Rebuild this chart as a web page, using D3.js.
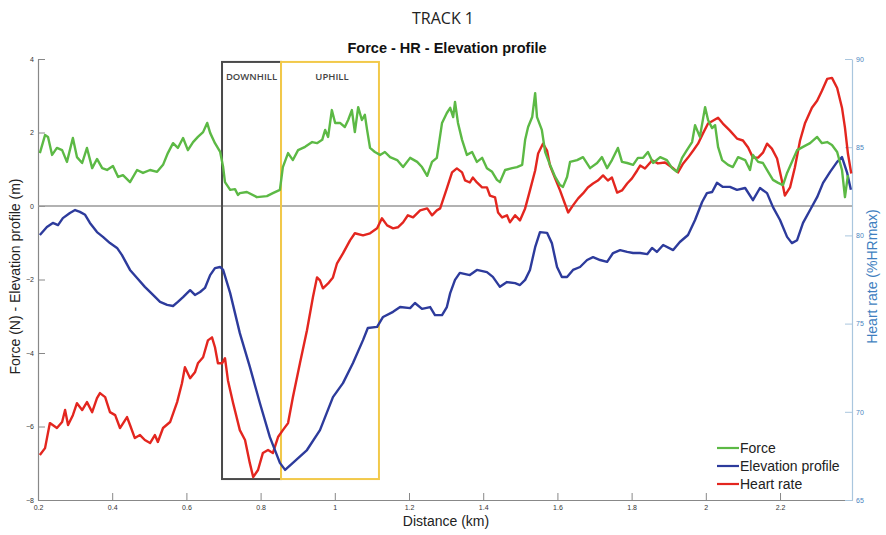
<!DOCTYPE html>
<html>
<head>
<meta charset="utf-8">
<script src="https://cdn.jsdelivr.net/npm/d3@7"></script>
<style>
  body { margin: 0; background: #fff; }
  svg text { font-family: "Liberation Sans", Arial, sans-serif; }
</style>
</head>
<body>
<svg id="chart" width="886" height="535"></svg>
<script>
// distance (km) and values
const forceKm = [0.205,0.219,0.227,0.238,0.251,0.265,0.278,0.294,0.305,0.319,0.332,0.346,0.359,0.373,0.386,0.402,0.416,0.429,0.448,0.467,0.483,0.502,0.521,0.537,0.550,0.564,0.577,0.591,0.604,0.618,0.631,0.645,0.656,0.664,0.677,0.691,0.699,0.704,0.718,0.731,0.739,0.744,0.763,0.790,0.817,0.833,0.852,0.860,0.874,0.887,0.901,0.920,0.939,0.952,0.966,0.974,0.982,0.992,1.001,1.014,1.027,1.036,1.046,1.054,1.063,1.073,1.081,1.087,1.095,1.108,1.122,1.135,1.149,1.168,1.184,1.203,1.222,1.235,1.249,1.262,1.275,1.289,1.302,1.311,1.319,1.324,1.332,1.343,1.356,1.370,1.383,1.397,1.410,1.424,1.437,1.445,1.459,1.478,1.491,1.505,1.513,1.521,1.532,1.540,1.545,1.558,1.567,1.580,1.594,1.607,1.615,1.626,1.634,1.653,1.669,1.688,1.707,1.720,1.734,1.747,1.763,1.774,1.788,1.804,1.817,1.831,1.844,1.858,1.877,1.895,1.909,1.922,1.936,1.949,1.963,1.971,1.984,1.998,2.006,2.017,2.025,2.033,2.044,2.060,2.073,2.087,2.106,2.119,2.127,2.141,2.154,2.168,2.181,2.195,2.208,2.219,2.232,2.246,2.262,2.281,2.300,2.313,2.327,2.340,2.354,2.367,2.375,2.383];
const forceVal = [1.44,1.93,1.88,1.39,1.58,1.52,1.20,1.85,1.33,1.17,1.58,1.03,1.28,1.03,0.98,1.09,0.79,0.84,0.65,0.98,0.90,0.98,0.93,1.12,1.44,1.71,1.58,1.85,1.52,1.74,1.88,2.01,2.26,1.99,1.71,1.47,1.06,0.65,0.44,0.46,0.30,0.35,0.38,0.24,0.27,0.35,0.44,1.06,1.44,1.25,1.52,1.61,1.74,1.71,1.80,2.07,1.88,2.61,2.26,2.26,2.15,2.34,2.61,2.01,2.69,2.34,2.48,2.07,1.58,1.47,1.39,1.47,1.33,1.25,1.06,1.31,1.20,1.06,0.82,1.20,1.31,2.26,2.53,2.67,2.42,2.83,2.26,1.80,1.39,1.47,1.20,1.31,1.03,0.93,0.71,0.65,0.98,1.03,1.06,1.12,1.80,2.15,2.42,3.07,2.42,2.07,1.47,1.12,0.79,0.57,0.52,0.79,1.20,1.25,1.33,1.03,1.17,1.33,1.03,1.25,1.58,1.20,1.17,1.12,1.31,1.31,1.47,1.17,1.33,1.25,1.03,0.93,1.31,1.52,1.74,2.20,1.88,2.69,2.34,2.12,2.20,1.61,1.25,1.12,1.06,1.33,1.25,0.98,1.39,1.20,1.17,0.93,0.71,0.63,0.57,0.90,1.20,1.52,1.61,1.71,1.88,1.71,1.74,1.66,1.47,0.98,0.24,0.84];

const elevKm = [0.205,0.224,0.240,0.254,0.267,0.286,0.300,0.313,0.327,0.340,0.359,0.375,0.394,0.413,0.426,0.448,0.467,0.488,0.510,0.529,0.548,0.564,0.577,0.591,0.610,0.623,0.637,0.650,0.664,0.677,0.691,0.699,0.718,0.744,0.771,0.798,0.825,0.852,0.866,0.887,0.925,0.960,0.995,1.022,1.049,1.076,1.089,1.114,1.130,1.157,1.176,1.203,1.216,1.235,1.257,1.270,1.289,1.302,1.311,1.324,1.337,1.364,1.383,1.410,1.426,1.445,1.464,1.486,1.499,1.513,1.526,1.540,1.553,1.572,1.585,1.599,1.612,1.626,1.642,1.661,1.680,1.696,1.715,1.734,1.750,1.769,1.788,1.804,1.823,1.842,1.855,1.868,1.885,1.912,1.930,1.952,1.971,1.990,2.003,2.017,2.030,2.046,2.065,2.084,2.106,2.127,2.146,2.165,2.181,2.200,2.219,2.232,2.246,2.262,2.281,2.300,2.316,2.335,2.354,2.367,2.381,2.391];
const elevVal = [-0.79,-0.57,-0.46,-0.52,-0.33,-0.19,-0.11,-0.16,-0.24,-0.46,-0.71,-0.84,-1.01,-1.14,-1.33,-1.74,-1.96,-2.20,-2.42,-2.61,-2.69,-2.72,-2.61,-2.48,-2.29,-2.42,-2.34,-2.23,-1.88,-1.69,-1.66,-1.74,-2.37,-3.46,-4.38,-5.36,-6.29,-6.99,-7.18,-6.99,-6.64,-6.10,-5.20,-4.82,-4.27,-3.65,-3.32,-3.29,-3.02,-2.88,-2.75,-2.78,-2.64,-2.80,-2.75,-2.97,-2.97,-2.75,-2.37,-2.01,-1.82,-1.88,-1.74,-1.80,-1.93,-2.20,-2.07,-2.10,-2.15,-2.01,-1.74,-1.12,-0.71,-0.73,-1.01,-1.66,-1.93,-1.93,-1.74,-1.66,-1.47,-1.39,-1.47,-1.52,-1.28,-1.20,-1.25,-1.28,-1.28,-1.31,-1.14,-1.25,-1.06,-1.20,-0.98,-0.79,-0.38,0.11,0.35,0.38,0.63,0.52,0.52,0.44,0.49,0.16,0.49,0.35,-0.03,-0.38,-0.84,-1.01,-0.93,-0.46,-0.11,0.24,0.63,0.93,1.20,1.33,0.90,0.44];

const hrKm = [0.205,0.219,0.232,0.251,0.265,0.273,0.281,0.294,0.305,0.319,0.332,0.346,0.359,0.367,0.381,0.394,0.408,0.421,0.440,0.448,0.461,0.475,0.488,0.502,0.515,0.523,0.537,0.556,0.575,0.588,0.596,0.610,0.623,0.631,0.645,0.658,0.669,0.677,0.685,0.696,0.704,0.712,0.726,0.744,0.758,0.771,0.780,0.793,0.806,0.820,0.833,0.847,0.860,0.874,0.887,0.906,0.925,0.941,0.952,0.960,0.968,0.982,0.995,1.006,1.022,1.041,1.054,1.076,1.095,1.114,1.127,1.141,1.157,1.170,1.184,1.197,1.211,1.230,1.249,1.262,1.275,1.284,1.302,1.316,1.329,1.343,1.351,1.364,1.372,1.383,1.397,1.410,1.418,1.432,1.440,1.451,1.464,1.472,1.486,1.499,1.513,1.526,1.540,1.548,1.561,1.572,1.580,1.594,1.607,1.620,1.629,1.642,1.656,1.669,1.682,1.696,1.709,1.723,1.736,1.747,1.761,1.774,1.788,1.801,1.815,1.823,1.836,1.855,1.871,1.890,1.909,1.925,1.939,1.952,1.966,1.979,1.992,2.006,2.019,2.033,2.046,2.065,2.084,2.100,2.114,2.127,2.141,2.154,2.165,2.178,2.192,2.205,2.213,2.227,2.240,2.254,2.267,2.286,2.300,2.313,2.327,2.340,2.354,2.367,2.375,2.383,2.392];
const hrVal = [67.55,67.94,69.36,69.08,69.42,70.10,69.25,69.81,70.49,70.10,70.55,69.98,70.77,71.06,70.83,69.98,69.81,69.08,69.70,69.25,68.51,68.68,68.40,68.23,68.68,68.29,69.08,69.42,70.55,71.62,72.53,71.90,72.24,72.75,73.09,74.05,74.22,73.66,72.75,72.75,73.04,71.78,70.49,68.96,68.40,67.09,66.30,66.70,67.66,67.83,67.66,68.57,68.96,69.36,70.83,72.75,74.62,76.49,77.62,77.45,77.00,77.28,77.62,78.42,78.98,79.72,80.12,80.00,80.12,80.40,80.97,80.57,80.40,80.46,80.74,81.14,81.02,81.42,81.53,81.14,81.42,81.53,82.67,83.57,83.80,83.57,83.12,83.00,83.28,83.00,82.72,82.72,82.26,82.15,81.30,81.02,81.14,80.74,81.14,80.85,81.53,82.55,83.68,84.64,85.20,84.81,83.96,83.22,82.55,81.81,81.30,81.70,82.10,82.38,82.72,82.94,83.11,83.40,83.11,83.28,82.43,82.55,82.94,83.23,83.68,83.96,83.79,84.25,84.08,84.13,83.85,83.57,84.08,84.41,84.81,85.20,85.77,86.34,86.50,86.67,86.34,85.94,85.49,85.38,84.98,84.41,84.41,84.69,85.20,84.92,84.36,83.11,82.26,82.72,83.85,85.38,86.34,87.24,87.63,88.20,88.87,88.93,88.36,87.24,86.11,84.64,83.51];

// marked sections [start km, end km]
const downhill = [0.696, 0.855];
const uphill = [0.855, 1.119];

const xTicks = [0.2, 0.4, 0.6, 0.8, 1, 1.2, 1.4, 1.6, 1.8, 2, 2.2];
const leftTicks = [-8, -6, -4, -2, 0, 2, 4];
const rightTicks = [65, 70, 75, 80, 85, 90];

const svg = d3.select("#chart");
const plotL = 38, plotR = 852, plotT = 59, plotB = 500;

const x = d3.scaleLinear().domain([0.2, 2.394]).range([plotL, plotR]);
const y = d3.scaleLinear().domain([-8, 4]).range([plotB, plotT]);
const yHR = d3.scaleLinear().domain([65, 90]).range([plotB, plotT]);

// titles
svg.append("text")
    .attr("x", 443).attr("y", 24)
    .attr("text-anchor", "middle")
    .style("font-family", "'Open Sans', sans-serif")
    .style("font-size", "16px")
    .attr("fill", "#222")
    .text("TRACK 1");

svg.append("text")
    .attr("x", 447).attr("y", 53)
    .attr("text-anchor", "middle")
    .style("font-family", "'Liberation Sans Narrow', 'Liberation Sans', sans-serif")
    .style("font-size", "14.5px")
    .style("font-weight", "bold")
    .attr("fill", "#111")
    .text("Force - HR - Elevation profile");

// axes
const gx = svg.append("g")
    .attr("transform", `translate(0,${plotB})`)
    .call(d3.axisBottom(x).tickValues(xTicks).tickSize(-7).tickSizeOuter(0).tickPadding(5)
        .tickFormat(d => String(+d.toFixed(1))));

const gy = svg.append("g")
    .attr("transform", `translate(${plotL},0)`)
    .call(d3.axisLeft(y).tickValues(leftTicks).tickSize(-7).tickSizeOuter(0).tickPadding(4));

const gr = svg.append("g")
    .attr("transform", `translate(${plotR},0)`)
    .call(d3.axisRight(yHR).tickValues(rightTicks).tickSize(-7).tickSizeOuter(0).tickPadding(4));

[gx, gy].forEach(g => {
    g.select(".domain").attr("stroke", "#888").attr("stroke-width", 1.2);
    g.selectAll(".tick line").attr("stroke", "#888");
    g.selectAll(".tick text").attr("fill", "#333").style("font-size", "7px");
});
gr.select(".domain").attr("stroke", "#a9c6de").attr("stroke-width", 1.2);
gr.selectAll(".tick line").attr("stroke", "#a9c6de");
gr.selectAll(".tick text").attr("fill", "#4a84c0").style("font-size", "7px");

// axis labels
svg.append("text")
    .attr("transform", `translate(20,${(plotT + plotB) / 2 - 3}) rotate(-90)`)
    .attr("text-anchor", "middle")
    .style("font-size", "14px")
    .attr("fill", "#222")
    .text("Force (N) - Elevation profile (m)");

svg.append("text")
    .attr("transform", `translate(877,${(plotT + plotB) / 2 - 3}) rotate(-90)`)
    .attr("text-anchor", "middle")
    .style("font-size", "14px")
    .attr("fill", "#3f7fbf")
    .text("Heart rate (%HRmax)");

svg.append("text")
    .attr("x", 446).attr("y", 526)
    .attr("text-anchor", "middle")
    .style("font-size", "14px")
    .attr("fill", "#222")
    .text("Distance (km)");

// zero line
svg.append("line")
    .attr("x1", plotL).attr("x2", plotR)
    .attr("y1", y(0)).attr("y2", y(0))
    .attr("stroke", "#999").attr("stroke-width", 1.5);

// section boxes
const boxTop = 3.92, boxBottom = -7.43;
svg.append("rect")
    .attr("x", x(downhill[0])).attr("y", y(boxTop))
    .attr("width", x(downhill[1]) - x(downhill[0]))
    .attr("height", y(boxBottom) - y(boxTop))
    .attr("fill", "none").attr("stroke", "#4a4a4a").attr("stroke-width", 2);
svg.append("rect")
    .attr("x", x(uphill[0])).attr("y", y(boxTop))
    .attr("width", x(uphill[1]) - x(uphill[0]))
    .attr("height", y(boxBottom) - y(boxTop))
    .attr("fill", "none").attr("stroke", "#f2c94a").attr("stroke-width", 2);

svg.append("text")
    .attr("x", (x(downhill[0]) + x(downhill[1])) / 2).attr("y", 80)
    .attr("text-anchor", "middle")
    .style("font-family", "'Open Sans', sans-serif")
    .style("font-size", "9.5px").style("font-weight", "600")
    .attr("fill", "#444").text("DOWNHILL");
svg.append("text")
    .attr("x", (x(uphill[0]) + x(uphill[1])) / 2 + 2).attr("y", 80)
    .attr("text-anchor", "middle")
    .style("font-family", "'Open Sans', sans-serif")
    .style("font-size", "9.5px").style("font-weight", "600")
    .attr("fill", "#444").text("UPHILL");

// series
const series = [
    { label: "Force", color: "#5cb945", km: forceKm, val: forceVal, scale: y },
    { label: "Elevation profile", color: "#2d3b9c", km: elevKm, val: elevVal, scale: y },
    { label: "Heart rate", color: "#e3261f", km: hrKm, val: hrVal, scale: yHR }
];

// heart rate first, then elevation, force on top
[series[2], series[1], series[0]].forEach(s => {
    const line = d3.line()
        .x(d => x(d[0]))
        .y(d => s.scale(d[1]));
    svg.append("path")
        .datum(d3.zip(s.km, s.val))
        .attr("d", line)
        .attr("fill", "none")
        .attr("stroke", s.color)
        .attr("stroke-width", 2.4)
        .attr("stroke-linejoin", "round");
});

// legend
const legend = svg.append("g").attr("transform", "translate(717,448)");
const items = legend.selectAll("g")
    .data(series)
    .enter()
    .append("g")
    .attr("transform", (d, i) => `translate(0,${i * 18})`);
items.append("line")
    .attr("x1", 0).attr("x2", 22)
    .attr("stroke", d => d.color).attr("stroke-width", 2.2);
items.append("text")
    .attr("x", 23).attr("dy", "0.35em")
    .style("font-size", "14px")
    .attr("fill", "#222")
    .text(d => d.label);
</script>
</body>
</html>
